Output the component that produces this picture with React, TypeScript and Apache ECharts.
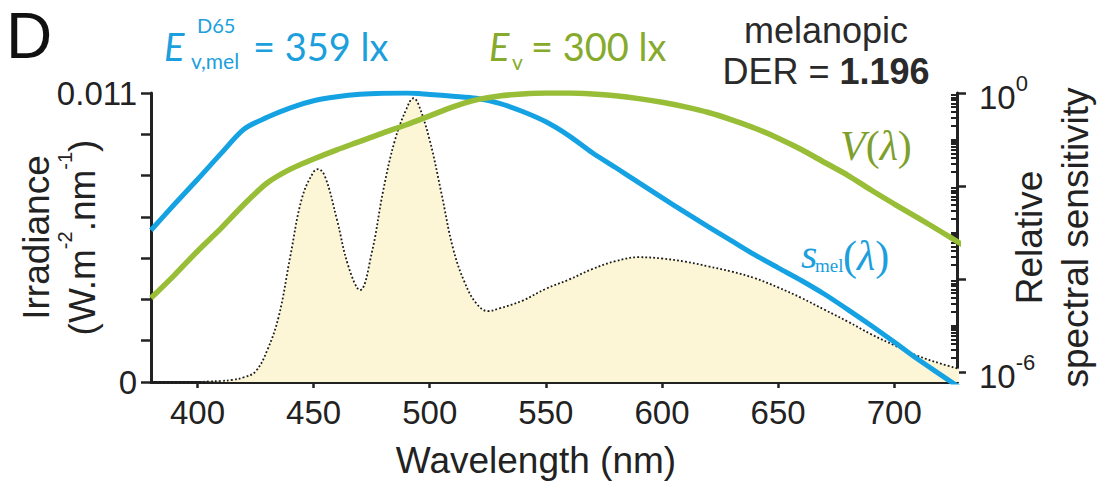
import React, { useEffect, useRef } from "react";
import * as echarts from "echarts";

// ---- Data ----
// Spectral irradiance of the 6400 K high-melanopic LED (W·m^-2·nm^-1)
const spdWavelengths = [380, 390, 400, 405, 410, 415, 420, 425, 430, 435, 440, 445, 450, 452, 455, 460, 465, 470, 475, 480, 485, 490, 493, 495, 500, 505, 510, 515, 520, 525, 530, 540, 550, 560, 570, 580, 590, 600, 610, 620, 630, 640, 650, 660, 670, 680, 690, 700, 710, 720, 730];
const spdIrradiance = [0, 0, 0, 0.00002, 0.00004, 0.00008, 0.00018, 0.0004, 0.0012, 0.0025, 0.0048, 0.007, 0.008, 0.0081, 0.0078, 0.0062, 0.0044, 0.0035, 0.0049, 0.0073, 0.0092, 0.0104, 0.0108, 0.0106, 0.0092, 0.0072, 0.0051, 0.0038, 0.003, 0.0027, 0.0028, 0.0031, 0.00355, 0.0039, 0.0043, 0.0046, 0.00475, 0.0047, 0.00458, 0.0044, 0.0042, 0.00395, 0.0036, 0.0032, 0.00275, 0.0023, 0.00182, 0.0014, 0.001, 0.0007, 0.00045];

// Relative spectral sensitivities (log axis)
const sensWavelengths = [380, 390, 400, 410, 420, 430, 440, 450, 460, 470, 480, 490, 500, 510, 520, 530, 540, 550, 560, 570, 580, 590, 600, 610, 620, 630, 640, 650, 660, 670, 680, 690, 700, 710, 720, 730];
const vLambda = [0.000039, 0.00012, 0.000396, 0.00121, 0.004, 0.0116, 0.023, 0.038, 0.06, 0.091, 0.139, 0.208, 0.323, 0.503, 0.71, 0.862, 0.954, 0.995, 0.995, 0.952, 0.87, 0.757, 0.631, 0.503, 0.381, 0.265, 0.175, 0.107, 0.061, 0.032, 0.017, 0.0082, 0.0041, 0.0021, 0.00105, 0.00052];
const sMel = [0.00112, 0.004, 0.0138, 0.049, 0.166, 0.3, 0.48, 0.68, 0.83, 0.94, 0.99, 1.0, 0.93, 0.85, 0.77, 0.6, 0.4, 0.24, 0.12, 0.052, 0.025, 0.0118, 0.0056, 0.0027, 0.00132, 0.00066, 0.00033, 0.000174, 0.000093, 0.000047, 0.000022, 0.00001, 0.0000044, 0.0000019, 0.00000087, 0.0000004];

// Tick values / labels
const xTicks = [400, 450, 500, 550, 600, 650, 700];
const irrMax = 0.011;
const irrTickCount = 7;
const irrLabels = [0, 0.011];
const sensMajorExp = [0, -2, -4, -6];
const sensLabelExp = [0, -6];
const sensMinExp = -6.215;

const FONT = "Liberation Sans, Arial, sans-serif";
const BLUE = "#15a2e2";
const GREEN = "#98bd36";
const AXIS = "#222";

export default function App() {
  const ref = useRef<HTMLDivElement>(null);

  useEffect(() => {
    if (!ref.current) return;
    const chart = echarts.init(ref.current, undefined, { renderer: "svg" });

    const irrTicks: number[] = [];
    for (let i = 0; i <= irrTickCount; i++) irrTicks.push((irrMax * i) / irrTickCount);

    const minorTicks: number[] = [];
    for (let n = -7; n <= -1; n++) {
      for (let k = 1; k <= 9; k++) {
        const v = n + Math.log10(k);
        if (v >= sensMinExp && v <= 0 && !sensMajorExp.some((m) => Math.abs(m - v) < 1e-9)) minorTicks.push(v);
      }
    }

    const txt = (text: string, x: number, y: number, font: string, fill: string, align = "left", rich?: any) => ({
      type: "text",
      x,
      y,
      silent: true,
      style: { text, font, fill, align, verticalAlign: "middle", textAlign: align, textVerticalAlign: "middle", rich },
    });

    chart.setOption({
      animation: false,
      textStyle: { fontFamily: FONT },
      grid: { left: 151, right: 162, top: 93, bottom: 107, containLabel: false, outerBoundsMode: "none" },
      xAxis: {
        type: "value",
        min: 380,
        max: 727,
        name: "Wavelength (nm)",
        nameLocation: "middle",
        nameGap: 60,
        nameMoveOverlap: false,
        nameTextStyle: { fontSize: 37, color: AXIS, fontFamily: FONT, padding: [0, 36, 0, 0] },
        axisLine: { lineStyle: { color: AXIS, width: 3 } },
        axisTick: { customValues: xTicks, length: 6, lineStyle: { color: AXIS, width: 2.5 } },
        axisLabel: { customValues: xTicks, fontSize: 33, color: AXIS, margin: 14, fontFamily: FONT },
        splitLine: { show: false },
      },
      yAxis: [
        {
          type: "value",
          min: 0,
          max: irrMax,
          position: "left",
          name: "{a|Irradiance}\n{a|(W.m}{s|-2}{a|.nm}{s|-1}{a|)}",
          nameLocation: "middle",
          nameRotate: 90,
          nameGap: 50,
          nameMoveOverlap: false,
          nameTextStyle: {
            fontFamily: FONT,
            rich: {
              a: { fontSize: 37, color: AXIS, fontFamily: FONT, lineHeight: 46, verticalAlign: "bottom" },
              s: { fontSize: 20, color: AXIS, fontFamily: FONT, lineHeight: 20, verticalAlign: "top" },
            },
          },
          axisLine: { show: true, lineStyle: { color: AXIS, width: 3 } },
          axisTick: { customValues: irrTicks, length: 10, lineStyle: { color: AXIS, width: 2.5 } },
          axisLabel: {
            customValues: irrLabels,
            fontSize: 33,
            color: AXIS,
            margin: 14,
            fontFamily: FONT,
            formatter: (v: number) => (v === 0 ? "0" : String(irrMax)),
          },
          splitLine: { show: false },
        },
        {
          type: "value",
          min: sensMinExp,
          max: 0,
          position: "right",
          name: "Relative\nspectral sensitivity",
          nameLocation: "middle",
          nameRotate: 90,
          nameGap: 49,
          nameMoveOverlap: false,
          nameTextStyle: { fontSize: 37, color: AXIS, fontFamily: FONT, lineHeight: 46 },
          axisLine: { show: true, lineStyle: { color: AXIS, width: 3 } },
          axisTick: { customValues: sensMajorExp, length: 9, lineStyle: { color: AXIS, width: 2.5 } },
          axisLabel: {
            customValues: sensLabelExp,
            margin: 22,
            formatter: (v: number) => `{b|10}{s|${Math.round(v)}}`,
            rich: {
              b: { fontSize: 33, color: AXIS, fontFamily: FONT, lineHeight: 42, verticalAlign: "bottom" },
              s: { fontSize: 22, color: AXIS, fontFamily: FONT, lineHeight: 22, verticalAlign: "top" },
            },
          },
          splitLine: { show: false },
        },
        {
          type: "value",
          min: sensMinExp,
          max: 0,
          position: "right",
          axisLine: { show: false },
          axisTick: { customValues: minorTicks, length: 6, inside: true, lineStyle: { color: AXIS, width: 2 } },
          axisLabel: { show: false },
          splitLine: { show: false },
        },
      ],
      series: [
        {
          name: "6400 K High-melanopic LED",
          type: "line",
          xAxisIndex: 0,
          yAxisIndex: 0,
          data: spdWavelengths.map((w, i) => [w, spdIrradiance[i]]),
          smooth: 0.4,
          showSymbol: false,
          lineStyle: { color: "#1a1a1a", width: 1.8, type: [1.8, 2.2] },
          areaStyle: { color: "#fcf6d6", opacity: 1 },
          z: 1,
        },
        {
          name: "s_mel",
          type: "line",
          xAxisIndex: 0,
          yAxisIndex: 1,
          data: sensWavelengths.map((w, i) => [w, Math.log10(sMel[i])]),
          smooth: 0.3,
          showSymbol: false,
          lineStyle: { color: BLUE, width: 5 },
          z: 3,
        },
        {
          name: "V",
          type: "line",
          xAxisIndex: 0,
          yAxisIndex: 1,
          data: sensWavelengths.map((w, i) => [w, Math.log10(vLambda[i])]),
          smooth: 0.3,
          showSymbol: false,
          lineStyle: { color: GREEN, width: 5.5 },
          z: 4,
        },
      ],
      graphic: [
        txt("D", 6, 36, `64px ${FONT}`, "#111"),
        // E_v,mel^D65 = 359 lx
        txt("E", 164, 46, "italic 38px Lato", "#1c9fdc"),
        txt("D65", 197, 25, "20px Lato", "#1c9fdc"),
        txt("v,mel", 191, 60, "21px Lato", "#1c9fdc"),
        txt("= 359 lx", 253, 46, "38px Lato", "#1c9fdc"),
        // E_v = 300 lx
        txt("E", 489, 46, "italic 38px Lato", "#86aa2c"),
        txt("v", 512, 61, "21px Lato", "#86aa2c"),
        txt("= 300 lx", 531, 46, "38px Lato", "#86aa2c"),
        // melanopic DER
        txt("melanopic", 826, 30, `36px ${FONT}`, "#2a2a2a", "center"),
        txt("{n|DER = }{b|1.196}", 826, 71, `36px ${FONT}`, "#2a2a2a", "center", {
          n: { fontSize: 36, fontFamily: FONT, fill: "#2a2a2a", color: "#2a2a2a" },
          b: { fontSize: 36, fontFamily: FONT, fontWeight: "bold", fill: "#2a2a2a", color: "#2a2a2a" },
        }),
        // curve labels
        txt("{i|V}{n|(}{i|λ}{n|)}", 840, 146, "42px Liberation Serif", "#7f9f2c", "left", {
          i: { fontSize: 42, fontFamily: "Liberation Serif", fontStyle: "italic", color: "#7f9f2c" },
          n: { fontSize: 42, fontFamily: "Liberation Serif", color: "#7f9f2c" },
        }),
        txt("s", 801, 254, "italic 42px Liberation Serif", "#1c9fdc"),
        txt("mel", 815, 265, "19px Liberation Serif", "#1c9fdc"),
        txt("{n|(}{i|λ}{n|)}", 843, 256, "42px Liberation Serif", "#1c9fdc", "left", {
          i: { fontSize: 42, fontFamily: "Liberation Serif", fontStyle: "italic", color: "#1c9fdc" },
          n: { fontSize: 42, fontFamily: "Liberation Serif", color: "#1c9fdc" },
        }),
        // light source label
        txt("6400 K", 648, 309, `37px ${FONT}`, "#111", "center"),
        txt("High-melanopic LED", 648, 351, `37px ${FONT}`, "#111", "center"),
      ],
    });

    return () => chart.dispose();
  }, []);

  return <div ref={ref} style={{ position: "absolute", left: 0, top: 0, width: 1119, height: 489 }} />;
}
